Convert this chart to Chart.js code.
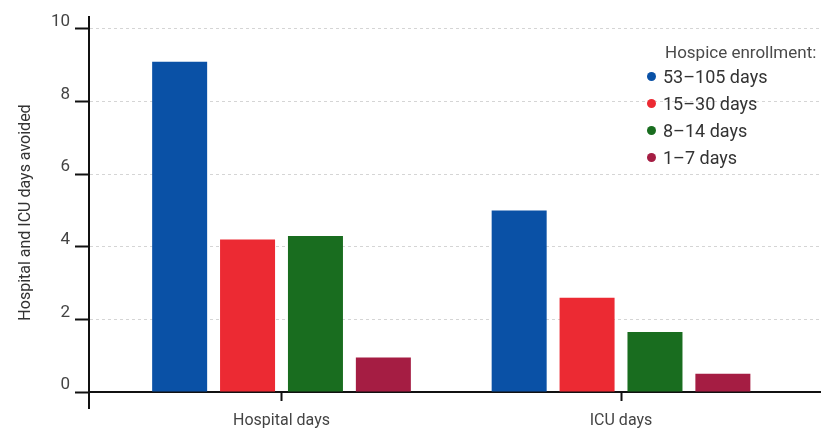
<!DOCTYPE html>
<html>
<head>
<meta charset="utf-8">
<script src="https://cdn.jsdelivr.net/npm/chart.js@4/dist/chart.umd.min.js"></script>
<style>
  html, body { margin: 0; padding: 0; background: #fff; }
  #wrap { position: relative; width: 821px; height: 430px; }
  #legend { position: absolute; left: 647px; top: 42px; font-family: Roboto, "Liberation Sans", sans-serif; }
  #legend .title { font-size: 17px; line-height: 20px; color: #4a4a4a; margin-left: 18px; white-space: nowrap; }
  #legend .rows { position: absolute; top: 21px; left: 0; white-space: nowrap; }
  #legend .row { display: flex; align-items: center; height: 27px; font-size: 18px; line-height: 27px; color: #333; }
  #legend .dot { width: 9px; height: 9px; border-radius: 50%; margin-right: 7px; flex: none; }
</style>
</head>
<body>
<div id="wrap">
  <canvas id="chart" width="821" height="430"></canvas>
  <div id="legend"></div>
</div>
<script>
// Days avoided per hospice-enrollment length
const categories = ['Hospital days', 'ICU days'];
const seriesLabels = ['53–105 days', '15–30 days', '8–14 days', '1–7 days'];
const days53to105 = [9.1, 5.0];
const days15to30 = [4.2, 2.6];
const days8to14 = [4.3, 1.65];
const days1to7 = [0.95, 0.5];
const yTickValues = [0, 2, 4, 6, 8, 10];
const legendTitle = 'Hospice enrollment:';
const yAxisTitle = 'Hospital and ICU days avoided';

const seriesValues = [days53to105, days15to30, days8to14, days1to7];
const seriesColors = ['#0a51a6', '#ec2a33', '#196d1f', '#a51d43'];

const FONT = 'Roboto, "Liberation Sans", sans-serif';

const datasets = seriesValues.map((vals, s) => ({
  label: seriesLabels[s],
  data: vals.map((v, i) => ({ x: i + 1, y: v })),
  backgroundColor: seriesColors[s],
  borderWidth: 0,
  barPercentage: 0.81,
  categoryPercentage: 0.8
}));

new Chart(document.getElementById('chart'), {
  type: 'bar',
  data: { datasets },
  options: {
    responsive: false,
    animation: false,
    devicePixelRatio: 1,
    layout: { padding: { top: 17, right: 0, bottom: 22, left: 0 } },
    plugins: { legend: { display: false }, tooltip: { enabled: false } },
    scales: {
      x: {
        type: 'linear',
        offset: false,
        min: 0.433,
        max: 2.589,
        position: { y: 0 },
        afterBuildTicks: (scale) => { scale.ticks = categories.map((_, i) => ({ value: i + 1 })); },
        ticks: {
          autoSkip: false,
          maxRotation: 0,
          padding: 11,
          color: '#444',
          font: { family: FONT, size: 16 },
          callback: (v) => categories[v - 1]
        },
        grid: { offset: false, drawOnChartArea: false, drawTicks: true, tickLength: 8, tickColor: '#111', tickWidth: 2 },
        border: { display: true, color: '#111', width: 2 }
      },
      y: {
        type: 'linear',
        min: -0.44,
        max: 10.33,
        afterBuildTicks: (scale) => { scale.ticks = yTickValues.map(v => ({ value: v })); },
        afterFit: (scale) => { scale.width = 89; },
        ticks: {
          padding: 5,
          labelOffset: -7,
          color: '#444',
          font: { family: FONT, size: 17 }
        },
        grid: {
          color: 'rgba(150,150,150,0.4)',
          lineWidth: 1,
          drawTicks: true,
          tickLength: 14,
          tickColor: '#111',
          tickWidth: 2
        },
        border: { display: true, color: '#111', width: 2, dash: [3, 3] },
        title: {
          display: true,
          text: yAxisTitle,
          color: '#333',
          font: { family: FONT, size: 16 },
          padding: { top: 16, bottom: 0 }
        }
      }
    }
  }
});

// Legend block in the upper right of the plot
const legendEl = document.getElementById('legend');
const titleEl = document.createElement('div');
titleEl.className = 'title';
titleEl.textContent = legendTitle;
legendEl.appendChild(titleEl);
const rowsEl = document.createElement('div');
rowsEl.className = 'rows';
seriesLabels.forEach((label, s) => {
  const row = document.createElement('div');
  row.className = 'row';
  const dot = document.createElement('span');
  dot.className = 'dot';
  dot.style.background = seriesColors[s];
  const txt = document.createElement('span');
  txt.textContent = label;
  row.appendChild(dot);
  row.appendChild(txt);
  rowsEl.appendChild(row);
});
legendEl.appendChild(rowsEl);
</script>
</body>
</html>
